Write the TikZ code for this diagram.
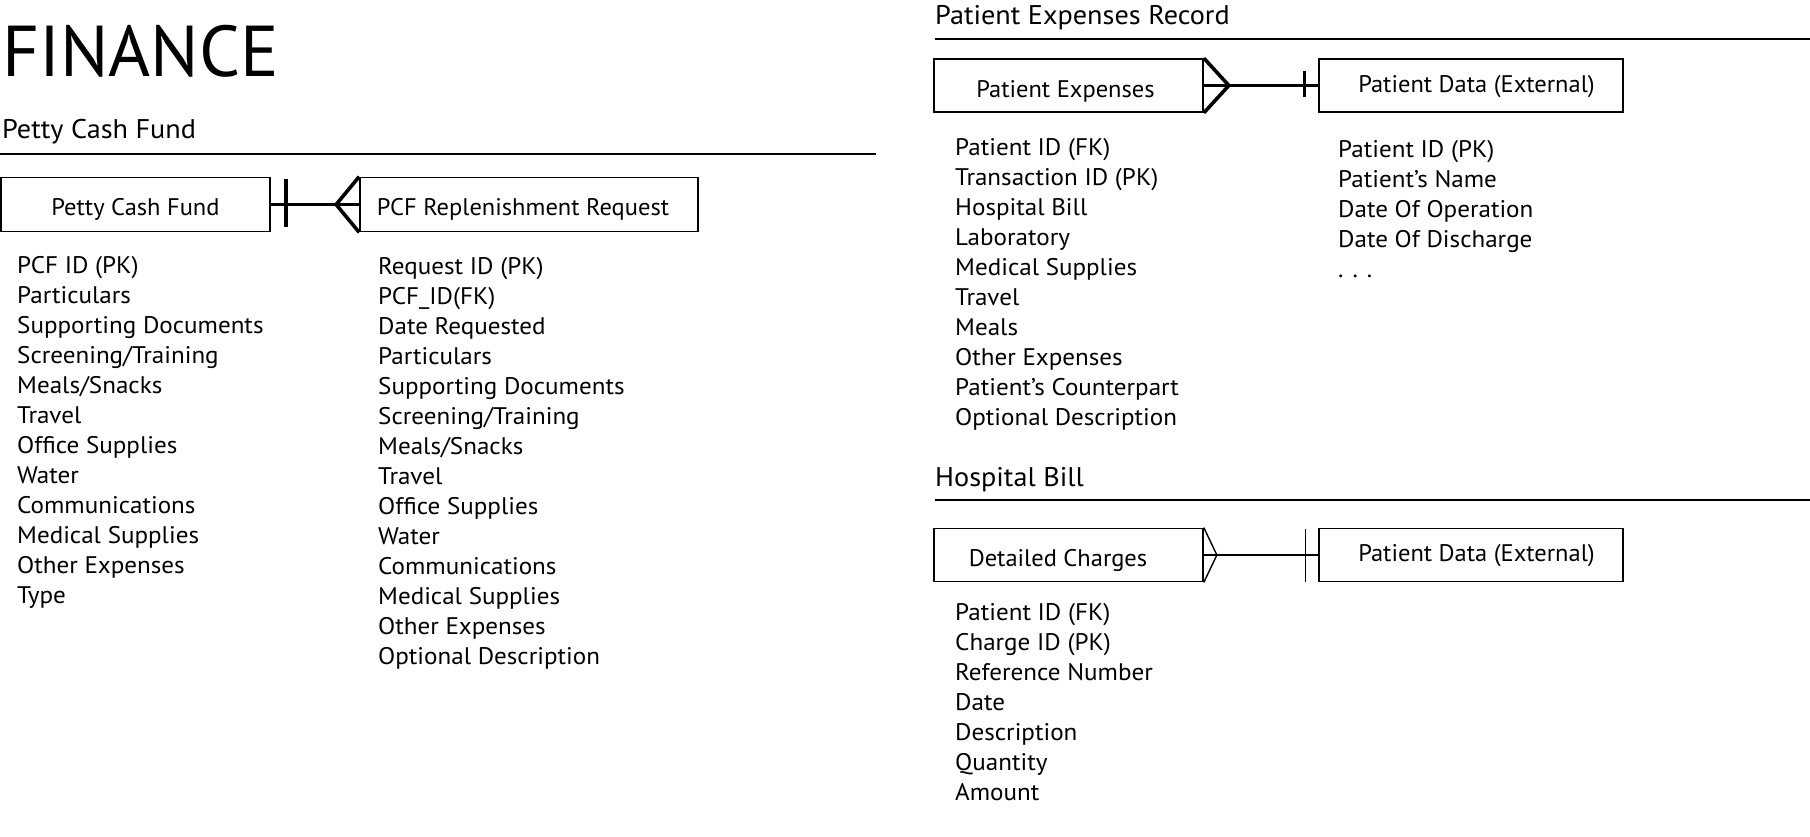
\documentclass[tikz,border=0pt]{standalone}
\usepackage{fontspec}
\setmainfont{PT Sans}
\newfontfamily\itemfont{PT Sans}[FakeStretch=1.045]
\newfontfamily\boxfont{PT Sans}[FakeStretch=1.02]
\newcommand\etext[3]{\raisebox{-#2pt}[0pt][0pt]{\hspace*{#1pt}#3}}
\usetikzlibrary{calc}
\begin{document}
\begin{tikzpicture}[x=1pt,y=-1pt,
  item/.style={anchor=base west, inner sep=0pt, font=\itemfont\fontsize{24}{24}\selectfont},
  sect/.style={anchor=base west, inner sep=0pt, font=\itemfont\fontsize{27}{27}\selectfont},
  bigtitle/.style={anchor=base west, inner sep=0pt, font=\fontsize{72}{72}\selectfont},
  entity/.style={draw, line width=1.7pt, inner sep=0pt, text height=0pt, text depth=0pt, font=\boxfont\fontsize{24}{24}\selectfont},
  rule/.style={line width=2pt},
  heavy/.style={line width=3.6pt},
  light/.style={line width=1.4pt}]
\useasboundingbox (0,0) rectangle (1810,836);

% titles
\node[bigtitle] (fin) at (2,76) {FINANCE};
\node[sect] (tpcf) at (2,138) {Petty Cash Fund};
\coordinate (l1a) at (0,154); \coordinate (l1b) at (876,154);
\draw[rule] (l1a) -- (l1b);
\node[sect] (tper) at (935,24) {Patient Expenses Record};
\coordinate (l2a) at (935,39); \coordinate (l2b) at (1810,39);
\draw[rule] (l2a) -- (l2b);
\node[sect] (thb) at (935,486) {Hospital Bill};
\coordinate (l3a) at (935,500); \coordinate (l3b) at (1810,500);
\draw[rule] (l3a) -- (l3b);

% entities
\node[entity, minimum width=269pt, minimum height=54pt] (pcf) at (135.5,204.5) {\etext{0}{10.5}{Petty Cash Fund}};
\node[entity, minimum width=338pt, minimum height=54pt] (pcfr) at (529,204.5) {\etext{-12}{10.5}{PCF Replenishment Request}};
\node[entity, minimum width=269pt, minimum height=53pt] (pe) at (1068.5,85.5) {\etext{-6}{11.5}{Patient Expenses}};
\node[entity, line width=1.4pt, minimum width=304pt, minimum height=53pt] (pd1) at (1471,85.5) {\etext{11}{6.5}{Patient Data (External)}};
\node[entity, minimum width=269pt, minimum height=53pt] (dc) at (1068.5,555) {\etext{-21}{11}{Detailed Charges}};
\node[entity, line width=1.4pt, minimum width=304pt, minimum height=53pt] (pd2) at (1471,555) {\etext{11}{6}{Patient Data (External)}};

% relation 1: one -> many
\draw[heavy] (pcf.east) -- (pcfr.west);
\draw[heavy, line join=miter] (pcfr.north west) -- ([xshift=-23pt]pcfr.west) -- (pcfr.south west);
\draw[heavy] ([xshift=15pt,yshift=26pt]pcf.east) -- ([xshift=15pt,yshift=-22pt]pcf.east);

% relation 2: many -> one
\draw[heavy] (pe.east) -- (pd1.west);
\draw[heavy, line join=miter] (pe.north east) -- ([xshift=25pt]pe.east) -- (pe.south east);
\draw[heavy] ([xshift=-14pt,yshift=15pt]pd1.west) -- ([xshift=-14pt,yshift=-11pt]pd1.west);

% relation 3: many -> one (thin)
\draw[light] (dc.east) -- (pd2.west);
\draw[light] (dc.north east) -- ([xshift=13pt]dc.east) -- (dc.south east);
\draw[light] ([xshift=-13pt,yshift=26pt]pd2.west) -- ([xshift=-13pt,yshift=-27pt]pd2.west);

% attribute lists
\foreach \t [count=\i from 0] in {PCF ID (PK),Particulars,Supporting Documents,Screening/Training,Meals/Snacks,Travel,Office Supplies,Water,Communications,Medical Supplies,Other Expenses,Type}
  \node[item] (a\i) at (17,273+30*\i) {\t};
\foreach \t [count=\i from 0] in {Request ID (PK),PCF\_ID(FK),Date Requested,Particulars,Supporting Documents,Screening/Training,Meals/Snacks,Travel,Office Supplies,Water,Communications,Medical Supplies,Other Expenses,Optional Description}
  \node[item] (b\i) at (378,274+30*\i) {\t};
\foreach \t [count=\i from 0] in {Patient ID (FK),Transaction ID (PK),Hospital Bill,Laboratory,Medical Supplies,Travel,Meals,Other Expenses,Patient’s Counterpart,Optional Description}
  \node[item] (c\i) at (955,155+30*\i) {\t};
\foreach \t [count=\i from 0] in {Patient ID (PK),Patient’s Name,Date Of Operation,Date Of Discharge,. . .}
  \node[item] (d\i) at (1338,157+30*\i) {\t};
\foreach \t [count=\i from 0] in {Patient ID (FK),Charge ID (PK),Reference Number,Date,Description,Quantity,Amount}
  \node[item] (e\i) at (955,620+30*\i) {\t};
\end{tikzpicture}
\end{document}
